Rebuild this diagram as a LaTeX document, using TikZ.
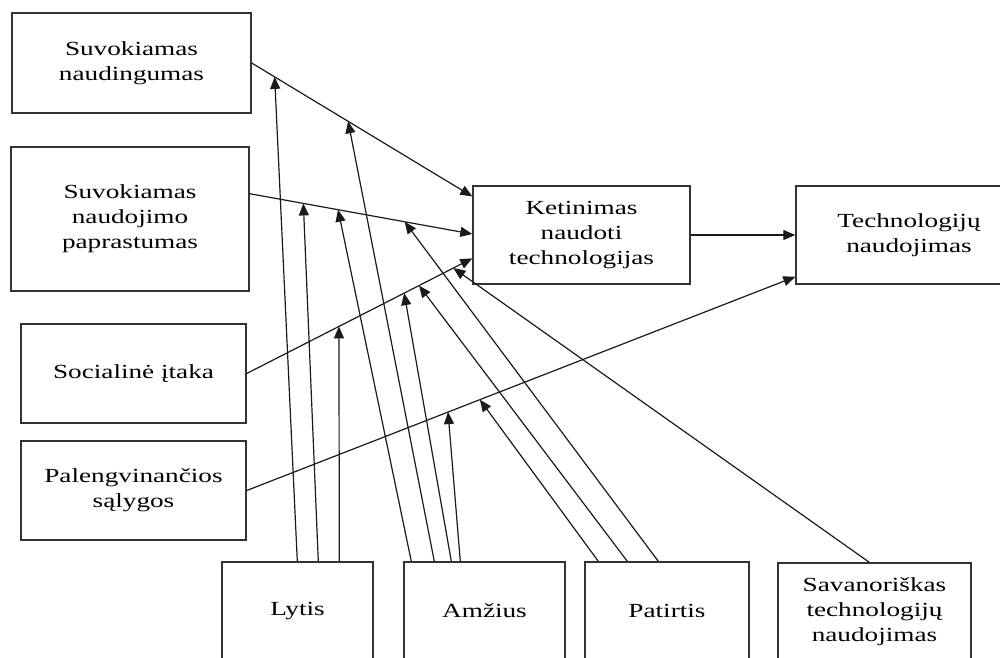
\documentclass[tikz,border=0pt]{standalone}
\usepackage{fontspec}
\setmainfont{Liberation Serif}[FakeStretch=1.36]
\usetikzlibrary{arrows.meta,calc}
\definecolor{boxgray}{HTML}{333333}
\definecolor{linegray}{HTML}{1A1A1A}
\tikzset{
  box/.style={draw=boxgray, line width=1.4pt, align=center, inner sep=0pt,
    font=\fontsize{20}{25}\selectfont, text=black},
  link/.style={draw=linegray, line width=1.2pt, -{Triangle[length=12pt,width=10pt]}}
}
\begin{document}
\begin{tikzpicture}[x=1pt,y=-1pt]
\useasboundingbox (0,0) rectangle (1000,657);
\clip (0,0) rectangle (1000,657);

% constructs
\node[box, minimum width=239pt, minimum height=100pt] (sn)   at (131.5,63)  {Suvokiamas\\naudingumas};
\node[box, minimum width=238pt, minimum height=144pt] (snp)  at (130,219)   {Suvokiamas\\naudojimo\\paprastumas};
\node[box, minimum width=225pt, minimum height=99pt]  (soc)  at (133.5,373.5) {Socialinė įtaka};
\node[box, minimum width=225pt, minimum height=99pt]  (pal)  at (133.5,490.5) {Palengvinančios\\sąlygos};
\node[box, minimum width=217pt, minimum height=98pt]  (ket)  at (581.5,235) {Ketinimas\\naudoti\\technologijas};
\node[box, minimum width=226pt, minimum height=98pt]  (tech) at (909,235)   {Technologijų\\naudojimas};

% moderators
\node[box, minimum width=151pt, minimum height=98pt] (lyt) at (297.5,611) {Lytis};
\node[box, minimum width=161pt, minimum height=98pt] (amz) at (484.5,611) {Amžius};
\node[box, minimum width=164pt, minimum height=98pt] (pat) at (667,611)   {Patirtis};
\node[box, minimum width=193pt, minimum height=98pt] (sav) at (874.5,612) {Savanoriškas\\technologijų\\naudojimas};

% end points of the main paths
\coordinate (snOut) at (sn.east);
\coordinate (snIn)  at ($(ket.north west)!0.112!(ket.south west)$);
\coordinate (spOut) at ($(snp.north east)!0.326!(snp.south east)$);
\coordinate (spIn)  at ($(ket.north west)!0.49!(ket.south west)$);
\coordinate (siOut) at (soc.east);
\coordinate (siIn)  at ($(ket.north west)!0.735!(ket.south west)$);
\coordinate (fcOut) at (pal.east);
\coordinate (fcIn)  at ($(tech.north west)!0.92!(tech.south west)$);

% main paths
\draw[link] (snOut) -- (snIn);
\draw[link] (spOut) -- (spIn);
\draw[link] (siOut) -- (siIn);
\draw[link] (fcOut) -- (fcIn);
\draw[link] (ket) -- (tech);

% points where the moderators act on the main paths
\coordinate (gSN) at ($(snOut)!0.104!(snIn)$);
\coordinate (aSN) at ($(snOut)!0.437!(snIn)$);
\coordinate (gSP) at ($(spOut)!0.241!(spIn)$);
\coordinate (aSP) at ($(spOut)!0.397!(spIn)$);
\coordinate (eSP) at ($(spOut)!0.696!(spIn)$);
\coordinate (gSI) at ($(siOut)!0.409!(siIn)$);
\coordinate (aSI) at ($(siOut)!0.698!(siIn)$);
\coordinate (eSI) at ($(siOut)!0.764!(siIn)$);
\coordinate (vSI) at ($(siOut)!0.916!(siIn)$);
\coordinate (aFC) at ($(fcOut)!0.367!(fcIn)$);
\coordinate (eFC) at ($(fcOut)!0.425!(fcIn)$);

% gender
\draw[link] ([xshift=76pt]lyt.north west)  -- (gSN);
\draw[link] ([xshift=97pt]lyt.north west)  -- (gSP);
\draw[link] ([xshift=118pt]lyt.north west) -- (gSI);
% age
\draw[link] ([xshift=8pt]amz.north west)  -- (aSP);
\draw[link] ([xshift=31pt]amz.north west) -- (aSN);
\draw[link] ([xshift=48pt]amz.north west) -- (aSI);
\draw[link] ([xshift=57pt]amz.north west) -- (aFC);
% experience
\draw[link] ([xshift=14pt]pat.north west) -- (eFC);
\draw[link] ([xshift=43pt]pat.north west) -- (eSI);
\draw[link] ([xshift=74pt]pat.north west) -- (eSP);
% voluntariness
\draw[link] ([xshift=92pt]sav.north west) -- (vSI);
\end{tikzpicture}
\end{document}
